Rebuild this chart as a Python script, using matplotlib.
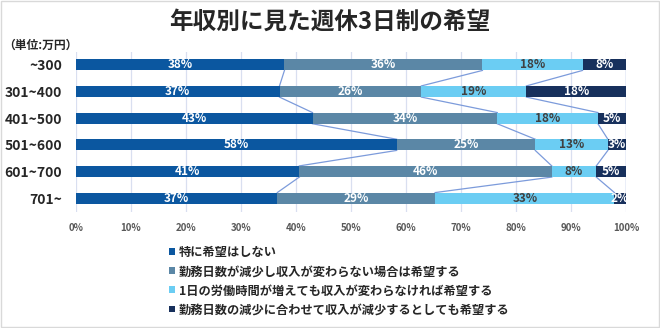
import numpy as np
import matplotlib
matplotlib.use('Agg')
import matplotlib.pyplot as plt
from matplotlib.patches import Rectangle, Patch

plt.rcParams['font.family'] = ['Noto Sans CJK JP', 'DejaVu Sans']

# data (percent)
categories = ['~300', '301~400', '401~500', '501~600', '601~700', '701~']
no_wish = [37.9, 37.0, 43.0, 58.3, 40.6, 36.6]
fewer_days_same_pay = [36.0, 25.8, 33.6, 25.2, 45.9, 28.7]
longer_hours_same_pay = [18.2, 19.1, 18.3, 13.2, 8.1, 32.6]
fewer_days_less_pay = [7.9, 18.1, 5.1, 3.3, 5.4, 2.1]
series_names = ['特に希望はしない',
                '勤務日数が減少し収入が変わらない場合は希望する',
                '1日の労働時間が増えても収入が変わらなければ希望する',
                '勤務日数の減少に合わせて収入が減少するとしても希望する']
xticks = [0, 10, 20, 30, 40, 50, 60, 70, 80, 90, 100]

colors = ['#0B57A0', '#5B87A6', '#6BCDF3', '#17305C']
label_colors = ['white', 'white', '#404040', 'white']

W, H = 660, 328
fig = plt.figure(figsize=(W / 100, H / 100), dpi=100)
fig.patches.append(Rectangle((0.002, 0.004), 0.996, 0.992, transform=fig.transFigure,
                             fill=False, edgecolor='#D9D9D9', lw=1))

ax = fig.add_axes([76 / W, 1 - 211.5 / H, 550 / W, 160 / H])

series = [no_wish, fewer_days_same_pay, longer_hours_same_pay, fewer_days_less_pay]
y = np.arange(len(categories))
bh = 0.42
left = np.zeros(len(categories))
bounds = []
for vals, c, lc in zip(series, colors, label_colors):
    vals = np.array(vals)
    ax.barh(y, vals, left=left, height=bh, color=c, zorder=3)
    for yi, l, v in zip(y, left, vals):
        ax.text(l + v / 2, yi, f'{v:.0f}%', ha='center', va='center',
                color=lc, fontsize=8.5, fontweight='bold', zorder=5)
    left = left + vals
    bounds.append(left.copy())

# series lines between bars
for b in bounds:
    for i in range(len(categories) - 1):
        ax.plot([b[i], b[i + 1]], [y[i] + bh / 2, y[i + 1] - bh / 2],
                color='#7C9BDB', lw=0.9, zorder=2)

ax.set_xlim(0, 100)
ax.set_ylim(len(categories) - 0.5, -0.5)
ax.set_xticks(xticks)
ax.set_xticklabels([f'{t}%' for t in xticks], fontsize=7, color='#595959', fontweight='bold')
ax.set_yticks(y)
ax.set_yticklabels(categories, fontsize=10, fontweight='bold', color='#262626')
ax.tick_params(length=0, pad=10)
ax.tick_params(axis='x', pad=8)
ax.grid(axis='x', color='#D9DFF0', lw=0.9, zorder=0)
for s in ax.spines.values():
    s.set_visible(False)

fig.text(330 / W, 1 - 22 / H, '年収別に見た週休3日制の希望', ha='center', va='center',
         fontsize=17, fontweight='bold', color='#262626')
fig.text(3 / W, 1 - 45 / H, '（単位:万円）', ha='left', va='center',
         fontsize=8.5, fontweight='bold', color='#262626')

handles = [Patch(facecolor=c) for c in colors]
fig.legend(handles, series_names, loc='upper left', bbox_to_anchor=(169 / W, 1 - 246 / H),
           frameon=False, handlelength=0.5, handleheight=0.5,
           handletextpad=0.3, labelspacing=0.5, borderaxespad=0, borderpad=0,
           labelcolor='#262626', prop={'weight': 'bold', 'size': 8.8})

fig.savefig('out.png', dpi=100)
